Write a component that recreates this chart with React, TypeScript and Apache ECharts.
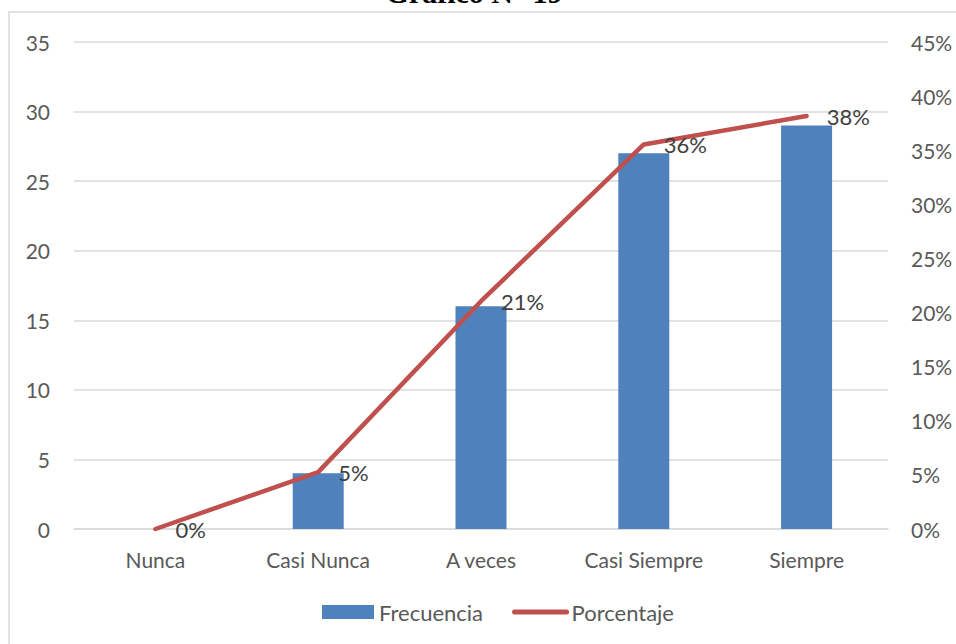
import React, { useEffect, useRef } from "react";
import * as echarts from "echarts";

const categories = ["Nunca", "Casi Nunca", "A veces", "Casi Siempre", "Siempre"];
const frecuencia = [0, 4, 16, 27, 29];
const porcentaje = [0, 0.0526, 0.2105, 0.3553, 0.3816];
const porcentajeLabels = ["0%", "5%", "21%", "36%", "38%"];
const title = "Gráfico N° 19";

const FONT = "Lato, 'Open Sans', sans-serif";
const TXT = "#595959";

export default function App() {
  const ref = useRef<HTMLDivElement>(null);
  useEffect(() => {
    if (!ref.current) return;
    const chart = echarts.init(ref.current, null, { renderer: "svg" });
    chart.setOption({
      animation: false,
      backgroundColor: "#ffffff",
      textStyle: { fontFamily: FONT },
      graphic: [
        {
          type: "rect",
          shape: { x: 9, y: 12, width: 1100, height: 800 },
          style: { fill: "none", stroke: "#d9d9d9", lineWidth: 1.5 },
          silent: true,
        },
        {
          type: "text",
          x: 474,
          y: -8,
          style: {
            text: title,
            fill: "#000000",
            font: "bold 30px 'Liberation Serif', 'Times New Roman', serif",
            align: "center",
            verticalAlign: "middle",
          },
        },
      ],
      grid: { left: 74, right: 68, top: 42, bottom: 115 },
      legend: {
        top: 596,
        left: 317,
        itemWidth: 52,
        itemHeight: 14,
        itemGap: 29,
        textStyle: { color: TXT, fontSize: 22, fontFamily: FONT },
        data: [
          { name: "Frecuencia", icon: "rect" },
          {
            name: "Porcentaje",
            itemStyle: { opacity: 0 },
            lineStyle: { color: "#C0504D", width: 5, cap: "round" },
          },
        ],
      },
      xAxis: {
        type: "category",
        data: categories,
        axisLine: { lineStyle: { color: "#d9d9d9", width: 1.5 } },
        axisTick: { show: false },
        axisLabel: { color: TXT, fontSize: 21, margin: 20, fontFamily: FONT },
      },
      yAxis: [
        {
          type: "value",
          min: 0,
          max: 35,
          interval: 5,
          axisLine: { show: false },
          axisTick: { show: false },
          axisLabel: { color: TXT, fontSize: 21, margin: 24, fontFamily: FONT },
          splitLine: { lineStyle: { color: "#d9d9d9", width: 1.5 } },
        },
        {
          type: "value",
          min: 0,
          max: 0.45,
          interval: 0.05,
          axisLine: { show: false },
          axisTick: { show: false },
          splitLine: { show: false },
          axisLabel: {
            color: TXT,
            fontSize: 21,
            margin: 23,
            fontFamily: FONT,
            formatter: (v: number) => Math.round(v * 100) + "%",
          },
        },
      ],
      series: [
        {
          name: "Frecuencia",
          type: "bar",
          data: frecuencia,
          barWidth: 51,
          itemStyle: { color: "#4F81BD" },
          yAxisIndex: 0,
        },
        {
          name: "Porcentaje",
          type: "line",
          data: porcentaje,
          yAxisIndex: 1,
          symbol: "circle",
          symbolSize: 0.1,
          showSymbol: true,
          lineStyle: { color: "#C0504D", width: 4.5, cap: "round" },
          itemStyle: { color: "#C0504D" },
          label: {
            show: true,
            position: "right",
            distance: 20,
            color: "#404040",
            fontSize: 22,
            fontFamily: FONT,
            formatter: (p: any) => porcentajeLabels[p.dataIndex],
          },
        },
      ],
    });
    return () => chart.dispose();
  }, []);
  return (
    <div
      ref={ref}
      style={{ position: "absolute", left: 0, top: 0, width: 956, height: 644 }}
    />
  );
}
